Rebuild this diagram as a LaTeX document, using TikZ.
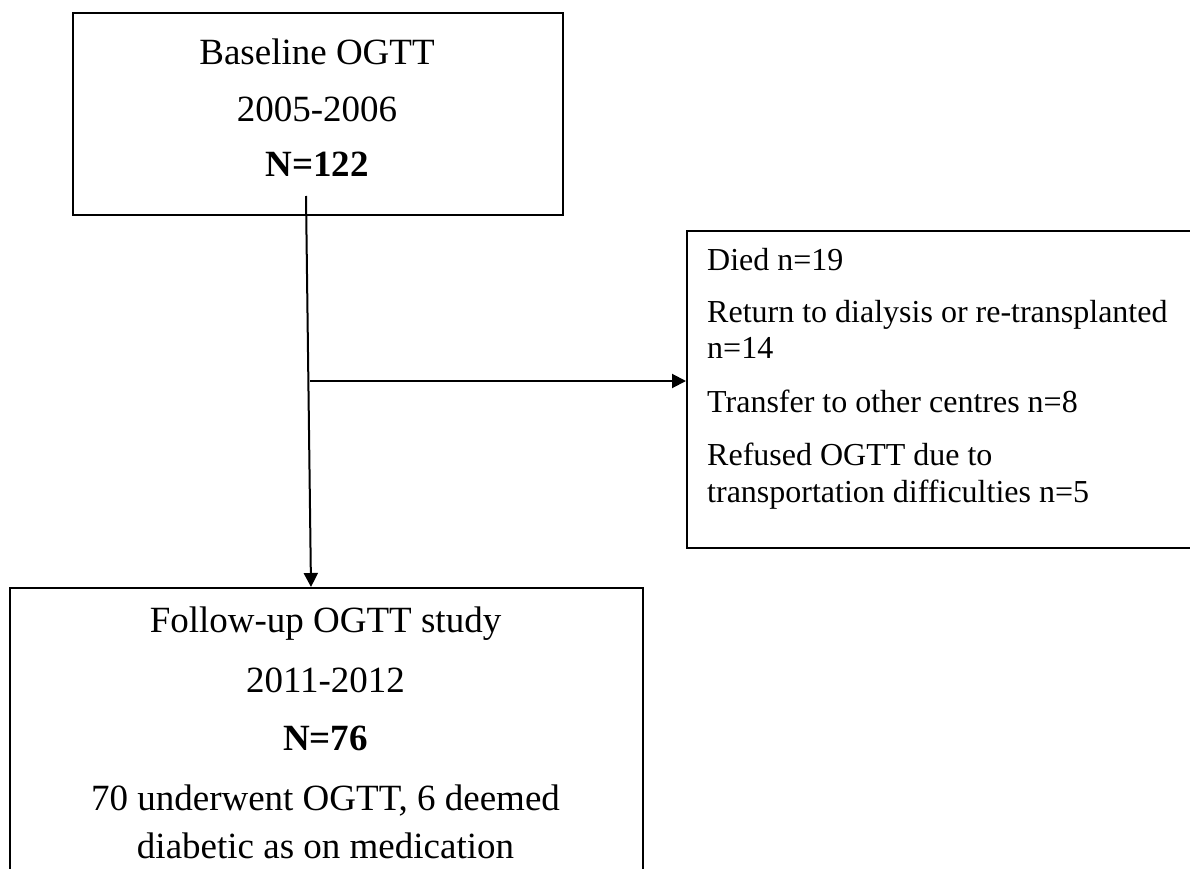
\documentclass[tikz,border=0pt]{standalone}
\usepackage{fontspec}
\setmainfont{Liberation Serif}
\usetikzlibrary{arrows.meta}
\begin{document}
\begin{tikzpicture}[x=1pt,y=-1pt,
  box/.style={draw, line width=1.6pt, inner sep=0pt, anchor=north west},
  big/.style={font=\fontsize{37}{44}\selectfont, anchor=base, inner sep=0pt},
  bigb/.style={font=\fontsize{37}{44}\selectfont\bfseries, anchor=base, inner sep=0pt},
  small/.style={font=\fontsize{32}{38}\selectfont, anchor=base west, inner sep=0pt},
  conn/.style={line width=2pt, -{Triangle[length=14pt,width=14pt]}}]
\useasboundingbox (0,0) rectangle (1190,869);
% boxes
\node[box, minimum width=490pt, minimum height=202pt] (top) at (72,12) {};
\node[box, minimum width=560pt, minimum height=317pt] (right) at (686,230) {};
\node[box, minimum width=633pt, minimum height=330pt] (bot) at (9,587) {};
% top box text
\node[big]  (t1) at (317,65)  {Baseline OGTT};
\node[big]  (t2) at (317,122) {2005-2006};
\node[bigb] (t3) at (317,177) {N=122};
% right box text
\node[small] (r1) at (707,270) {Died n=19};
\node[small] (r2) at (707,322) {Return to dialysis or re-transplanted};
\node[small] (r3) at (707,358) {n=14};
\node[small] (r4) at (707,412) {Transfer to other centres n=8};
\node[small] (r5) at (707,465) {Refused OGTT due to};
\node[small] (r6) at (707,502) {transportation difficulties n=5};
% bottom box text
\node[big]  (b1) at (325.5,632) {Follow-up OGTT study};
\node[big]  (b2) at (325.5,692) {2011-2012};
\node[bigb] (b3) at (325.5,750) {N=76};
\node[big]  (b4) at (325.5,810) {70 underwent OGTT, 6 deemed};
\node[big]  (b5) at (325.5,858) {diabetic as on medication};
% connectors
\coordinate (vs) at (306,196);
\coordinate (ve) at (311,587);
\coordinate (hs) at (310,381);
\draw[conn] (vs) -- (ve);
\draw[conn] (hs) -- (hs -| right.west);
\end{tikzpicture}
\end{document}
